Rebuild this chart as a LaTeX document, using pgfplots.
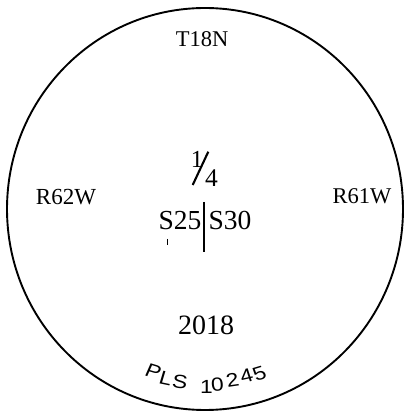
\documentclass[border=0pt]{standalone}
\usepackage{pgfplots}
\pgfplotsset{compat=1.18}
\usepackage{fontspec}
\setmainfont{Liberation Serif}
\newfontfamily\plsfont{Liberation Sans}
\begin{document}
\begin{tikzpicture}
\begin{axis}[hide axis, scale only axis, width=405pt, height=412pt,
  xmin=0, xmax=405, ymin=0, ymax=412, clip=false]
\addplot[draw=none] coordinates {(0,0) (405,412)};
% monument cap outline
\draw[line width=1.9pt] (axis cs:205,203) ellipse [x radius=198, y radius=201];
% labels
\node[anchor=base, inner sep=0pt, font=\fontsize{22.5}{24}\selectfont] at (axis cs:202,365) {T18N};
\node[anchor=base, inner sep=0pt, font=\fontsize{23}{24}\selectfont] at (axis cs:66,207) {R62W};
\node[anchor=base, inner sep=0pt, font=\fontsize{22.5}{24}\selectfont] at (axis cs:362,208) {R61W};
% fraction 1/4
\node[anchor=base, inner sep=0pt, font=\fontsize{24.5}{26}\selectfont] at (axis cs:197,244) {1};
\node[anchor=base, inner sep=0pt, font=\fontsize{25.5}{26}\selectfont] at (axis cs:211.5,225) {4};
\draw[line width=2.1pt] (axis cs:208.3,260.3) -- (axis cs:192.7,227);
% sections
\node[anchor=base, inner sep=0pt, font=\fontsize{27.5}{29}\selectfont] at (axis cs:180,182) {S25};
\node[anchor=base, inner sep=0pt, font=\fontsize{27.5}{29}\selectfont] at (axis cs:230,182) {S30};
\draw[line width=1.4pt] (axis cs:204,210) -- (axis cs:204,160);
\draw[line width=0.6pt] (axis cs:167,173) -- (axis cs:167,167);
% year
\node[anchor=base, inner sep=0pt, font=\fontsize{28}{30}\selectfont] at (axis cs:206,77) {2018};
% PLS 10245 along the arc
\begin{scope}[every node/.style={inner sep=0pt, xscale=1.2, font=\plsfont\fontsize{19}{20}\selectfont}]
\node[rotate=-20] at (axis cs:153.5,40) {P};
\node[rotate=-14] at (axis cs:166,34) {L};
\node[rotate=-8] at (axis cs:180,30) {S};
\node[rotate=0] at (axis cs:206.5,25.5) {1};
\node[rotate=4] at (axis cs:217.5,27.5) {0};
\node[rotate=10] at (axis cs:232.5,31.5) {2};
\node[rotate=15] at (axis cs:246.5,36.5) {4};
\node[rotate=20] at (axis cs:259.5,38.5) {5};
\end{scope}
\end{axis}
\end{tikzpicture}
\end{document}
